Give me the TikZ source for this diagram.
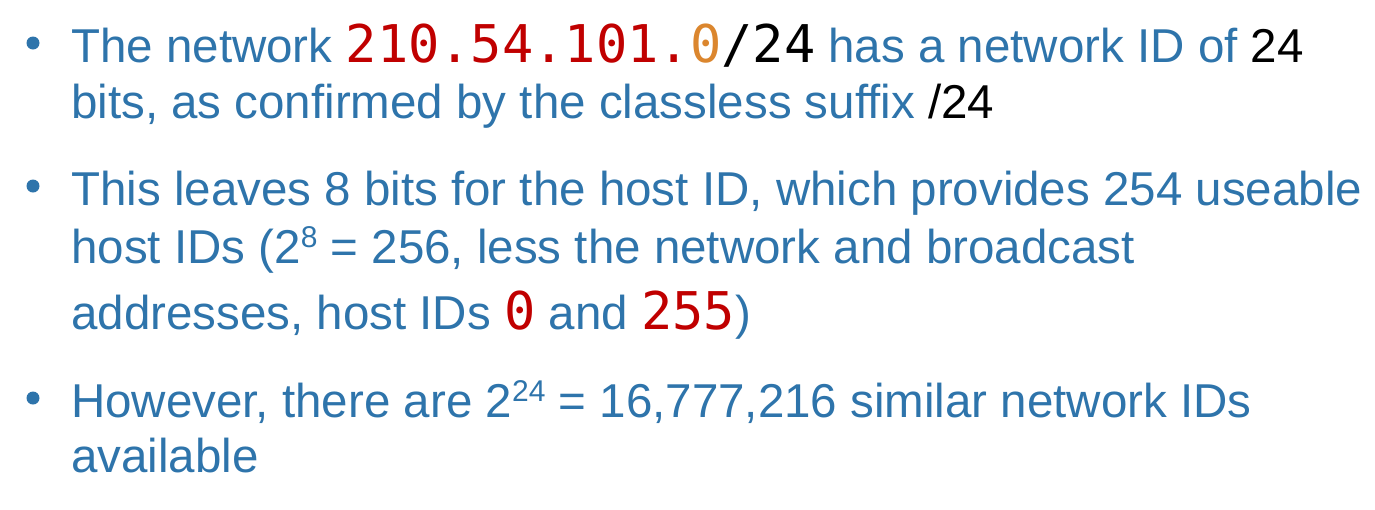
\documentclass[tikz,border=0pt]{standalone}
\usepackage{fontspec}
\setmainfont{Liberation Sans}
\newfontfamily\ipfont{DejaVu Sans Mono}
\definecolor{txtblue}{RGB}{46,116,171}
\definecolor{ipred}{RGB}{192,0,0}
\definecolor{iporange}{RGB}{219,134,46}
\newcommand{\ipaddr}[1]{{\ipfont\fontsize{52}{52}\selectfont #1}}
\newcommand{\powr}[1]{\raisebox{16pt}{\fontsize{30}{30}\selectfont #1}}

\begin{document}
\begin{tikzpicture}[x = 1pt, y = 1pt]
\tikzset{line/.style = {anchor = base west, inner sep = 0, text = txtblue, font = {\fontsize{47.5}{47.5}\selectfont}}}
\begin{scope}
\useasboundingbox (0,0) rectangle (1375,-509);
\draw[draw = none, fill = txtblue] (33,-43) circle (6.5);
\draw[draw = none, fill = txtblue] (33,-186) circle (6.5);
\draw[draw = none, fill = txtblue] (33,-398) circle (6.5);
\node[line] (l1) at (71,-62) {The network \ipaddr{\textcolor{ipred}{210.54.101.}\textcolor{iporange}{0}\textcolor{black}{/24}} has a network ID of \textcolor{black}{24}};
\node[line] (l2) at (71,-118) {bits, as confirmed by the classless suffix \textcolor{black}{/24}};
\node[line] (l3) at (71,-205) {This leaves 8 bits for the host ID, which provides 254 useable};
\node[line] (l4) at (71,-263) {host IDs (2\powr{8} = 256, less the network and broadcast};
\node[line] (l5) at (71,-329) {addresses, host IDs \ipaddr{\textcolor{ipred}{0}} and \ipaddr{\textcolor{ipred}{255}})};
\node[line] (l6) at (71,-417) {However, there are 2\powr{24} = 16,777,216 similar network IDs};
\node[line] (l7) at (71,-472) {available};
\end{scope}
\end{tikzpicture}
\end{document}
